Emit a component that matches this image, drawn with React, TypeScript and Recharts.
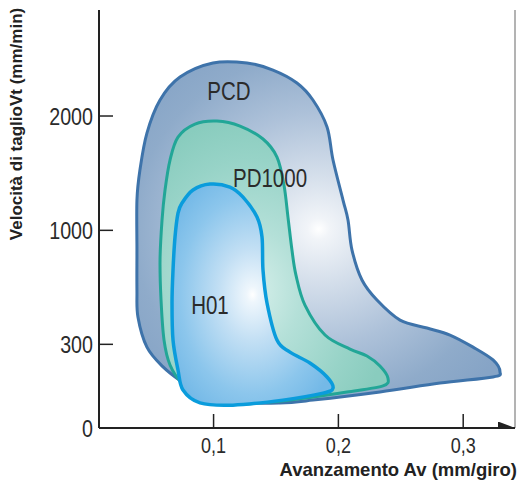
import React from 'react';
import { ScatterChart, Scatter, XAxis, YAxis, ReferenceLine } from 'recharts';

// Feed rate (mm/giro) and cutting speed (m/min) outlines of each tool-material region
const pcdFeed = [0.0386, 0.0386, 0.041, 0.0466, 0.0571, 0.0731, 0.0995, 0.1268, 0.1476, 0.1668, 0.1796, 0.1909, 0.1957, 0.2037, 0.2077, 0.2109, 0.2189, 0.2309, 0.2494, 0.271, 0.2894, 0.3079, 0.3239, 0.3295, 0.3239, 0.2814, 0.2333, 0.1796, 0.1532, 0.1212, 0.0891, 0.0747, 0.0595, 0.0466, 0.0394, 0.0386];
const pcdSpeed = [879, 1265, 1528, 1851, 2140, 2341, 2464, 2464, 2402, 2289, 2140, 1904, 1615, 1265, 1090, 879, 695, 572, 449, 400, 357, 290, 244, 201, 183, 161, 129, 100, 90, 93, 125, 165, 219, 290, 468, 633];

const pdFeed = [0.0571, 0.0587, 0.0611, 0.0651, 0.0715, 0.0851, 0.1027, 0.1212, 0.1396, 0.1508, 0.1564, 0.1596, 0.1628, 0.166, 0.1732, 0.1893, 0.2093, 0.2229, 0.2333, 0.2397, 0.2357, 0.2069, 0.1796, 0.1452, 0.1131, 0.0891, 0.0747, 0.0651, 0.0603, 0.0579];
const pdSpeed = [818, 1090, 1353, 1615, 1816, 1930, 1956, 1912, 1799, 1641, 1396, 1116, 879, 725, 541, 357, 283, 258, 222, 179, 151, 129, 111, 93, 86, 118, 161, 226, 326, 572];

const h01Feed = [0.0747, 0.0835, 0.0971, 0.1131, 0.1236, 0.1348, 0.1388, 0.1396, 0.1428, 0.1508, 0.1612, 0.1772, 0.1909, 0.1957, 0.1877, 0.1556, 0.1155, 0.0891, 0.0755, 0.0715, 0.0675, 0.0667, 0.0675, 0.0691, 0.0715];
const h01Speed = [1239, 1353, 1405, 1379, 1291, 1116, 959, 756, 554, 326, 272, 233, 183, 143, 125, 100, 82, 90, 136, 208, 326, 554, 756, 959, 1151];

const regionNames = ['PCD', 'PD1000', 'H01'];
const labelFeed = [0.1123, 0.1452, 0.0971];
const labelSpeed = [2219, 1458, 541];

const xTicks = [0.1, 0.2, 0.3];
const xDomain = [0.0082, 0.3415];
const yTicks = [0, 300, 1000, 2000];
// the speed axis is not linear: equal spacing for 300→1000→2000, shorter 0→300
const ySlots = [0, 0.734, 1.734, 2.737];
const yDomainTop = 3.667;

const toSlot = (v: number) => {
  for (let i = 1; i < yTicks.length; i++) {
    if (v <= yTicks[i] || i === yTicks.length - 1) {
      const t = (v - yTicks[i - 1]) / (yTicks[i] - yTicks[i - 1]);
      return ySlots[i - 1] + t * (ySlots[i] - ySlots[i - 1]);
    }
  }
  return 0;
};

const build = (xs: number[], vs: number[]) => xs.map((x, i) => ({ x, y: toSlot(vs[i]) }));
const pcdData = build(pcdFeed, pcdSpeed);
const pdData = build(pdFeed, pdSpeed);
const h01Data = build(h01Feed, h01Speed);
const labelData = regionNames.map((name, i) => ({ x: labelFeed[i], y: toSlot(labelSpeed[i]), name }));

// closed Catmull-Rom curve factory (passes through every point)
const closedSmooth = (context: any) => {
  let pts: number[][] = [];
  return {
    areaStart() {},
    areaEnd() {},
    lineStart() {
      pts = [];
    },
    point(x: number, y: number) {
      pts.push([+x, +y]);
    },
    lineEnd() {
      const n = pts.length;
      if (!n) return;
      context.moveTo(pts[0][0], pts[0][1]);
      for (let i = 0; i < n; i++) {
        const p0 = pts[(i - 1 + n) % n];
        const p1 = pts[i];
        const p2 = pts[(i + 1) % n];
        const p3 = pts[(i + 2) % n];
        context.bezierCurveTo(
          p1[0] + (p2[0] - p0[0]) / 6,
          p1[1] + (p2[1] - p0[1]) / 6,
          p2[0] - (p3[0] - p1[0]) / 6,
          p2[1] - (p3[1] - p1[1]) / 6,
          p2[0],
          p2[1]
        );
      }
      context.closePath();
    },
  };
};

const NARROW = "'Liberation Sans Narrow', 'Liberation Sans', Arial, sans-serif";
const BOLD = "'Liberation Sans', Arial, sans-serif";
const SQUEEZE = 0.82;

const NarrowText = ({ x, y, anchor, size, children }: any) => (
  <text
    transform={`translate(${x} ${y}) scale(${SQUEEZE} 1)`}
    x={0}
    y={0}
    textAnchor={anchor}
    fontFamily={NARROW}
    fontSize={size}
    fill="#2b2b2b"
  >
    {children}
  </text>
);

const XTick = (props: any) => {
  const { x, y, payload } = props;
  return (
    <g>
      <line x1={x} y1={y} x2={x} y2={y - 14} stroke="#222" strokeWidth={1.5} />
      <NarrowText x={x} y={y + 25} anchor="middle" size={22}>
        {String(payload.value).replace('.', ',')}
      </NarrowText>
    </g>
  );
};

const YTick = (props: any) => {
  const { x, y, payload, index } = props;
  return (
    <g>
      <line x1={x} y1={y} x2={x + 14} y2={y} stroke="#222" strokeWidth={1.5} />
      <NarrowText x={x - 6} y={y + 8.5} anchor="end" size={24}>
        {yTicks[index] !== undefined ? yTicks[index] : payload.value}
      </NarrowText>
    </g>
  );
};

const Empty = () => <g />;

const RegionLabel = (props: any) => {
  const { cx, cy, payload } = props;
  return (
    <NarrowText x={cx} y={cy + 9} anchor="middle" size={25}>
      {payload && payload.name}
    </NarrowText>
  );
};

export default function App() {
  return (
    <div style={{ position: 'absolute', left: 0, top: 0, width: 520, height: 483, background: '#fff' }}>
      <ScatterChart width={520} height={483} margin={{ top: 10, right: 5, bottom: 0, left: 0 }}>
        <defs>
          <radialGradient id="gPCD" cx="0.5" cy="0.49" r="0.62" fx="0.5" fy="0.49">
            <stop offset="0" stopColor="#ffffff" />
            <stop offset="0.05" stopColor="#f1f4f8" />
            <stop offset="0.25" stopColor="#d5dfeb" />
            <stop offset="0.55" stopColor="#adc1d9" />
            <stop offset="0.82" stopColor="#8fabca" />
            <stop offset="1" stopColor="#86a4c6" />
          </radialGradient>
          <radialGradient id="gPD" cx="0.4" cy="0.6" r="0.62" fx="0.4" fy="0.6">
            <stop offset="0" stopColor="#d6efea" />
            <stop offset="0.35" stopColor="#b4e0d8" />
            <stop offset="0.75" stopColor="#97d3c7" />
            <stop offset="1" stopColor="#89ccbe" />
          </radialGradient>
          <radialGradient id="gH01" cx="0.5" cy="0.5" r="0.6" fx="0.5" fy="0.5">
            <stop offset="0" stopColor="#ffffff" />
            <stop offset="0.06" stopColor="#eef6fc" />
            <stop offset="0.35" stopColor="#c2dff4" />
            <stop offset="0.75" stopColor="#8cc6ec" />
            <stop offset="1" stopColor="#74b9e7" />
          </radialGradient>
          <marker id="arrowX" markerWidth="18" markerHeight="8" refX="17" refY="6.5" orient="auto" markerUnits="userSpaceOnUse">
            <path d="M0,0 L17,6.5 L0,6.5 Z" fill="#222" />
          </marker>
        </defs>
        <XAxis
          type="number"
          dataKey="x"
          domain={xDomain}
          allowDataOverflow
          ticks={xTicks}
          height={55}
          tickSize={0}
          tickMargin={0}
          tickLine={false}
          axisLine={{ stroke: '#222', strokeWidth: 2, markerEnd: 'url(#arrowX)' }}
          tick={<XTick />}
          interval={0}
        />
        <YAxis
          type="number"
          dataKey="y"
          domain={[0, yDomainTop]}
          allowDataOverflow
          ticks={ySlots}
          width={99}
          tickSize={0}
          tickMargin={0}
          tickLine={false}
          axisLine={{ stroke: '#222', strokeWidth: 2 }}
          tick={<YTick />}
          interval={0}
        />
        <ReferenceLine x={xDomain[1]} stroke="#9a9a9a" strokeWidth={1.5} ifOverflow="visible" />
        <Scatter
          data={pcdData}
          isAnimationActive={false}
          shape={<Empty />}
          line={{ fill: 'url(#gPCD)', stroke: '#3e73aa', strokeWidth: 3 }}
          lineType="joint"
          lineJointType={closedSmooth as any}
        />
        <Scatter
          data={pdData}
          isAnimationActive={false}
          shape={<Empty />}
          line={{ fill: 'url(#gPD)', stroke: '#22a697', strokeWidth: 3 }}
          lineType="joint"
          lineJointType={closedSmooth as any}
        />
        <Scatter
          data={h01Data}
          isAnimationActive={false}
          shape={<Empty />}
          line={{ fill: 'url(#gH01)', stroke: '#0a9cdc', strokeWidth: 3.5 }}
          lineType="joint"
          lineJointType={closedSmooth as any}
        />
        <Scatter data={labelData} isAnimationActive={false} shape={<RegionLabel />} />
        <text x={22} y={124} transform="rotate(-90 22 124)" textAnchor="middle" fontFamily={BOLD} fontWeight="bold" fontSize={17} fill="#222">
          Velocità di taglioVt (mm/min)
        </text>
        <text x={517} y={476} textAnchor="end" fontFamily={BOLD} fontWeight="bold" fontSize={18.5} fill="#222">
          Avanzamento Av (mm/giro)
        </text>
      </ScatterChart>
    </div>
  );
}
